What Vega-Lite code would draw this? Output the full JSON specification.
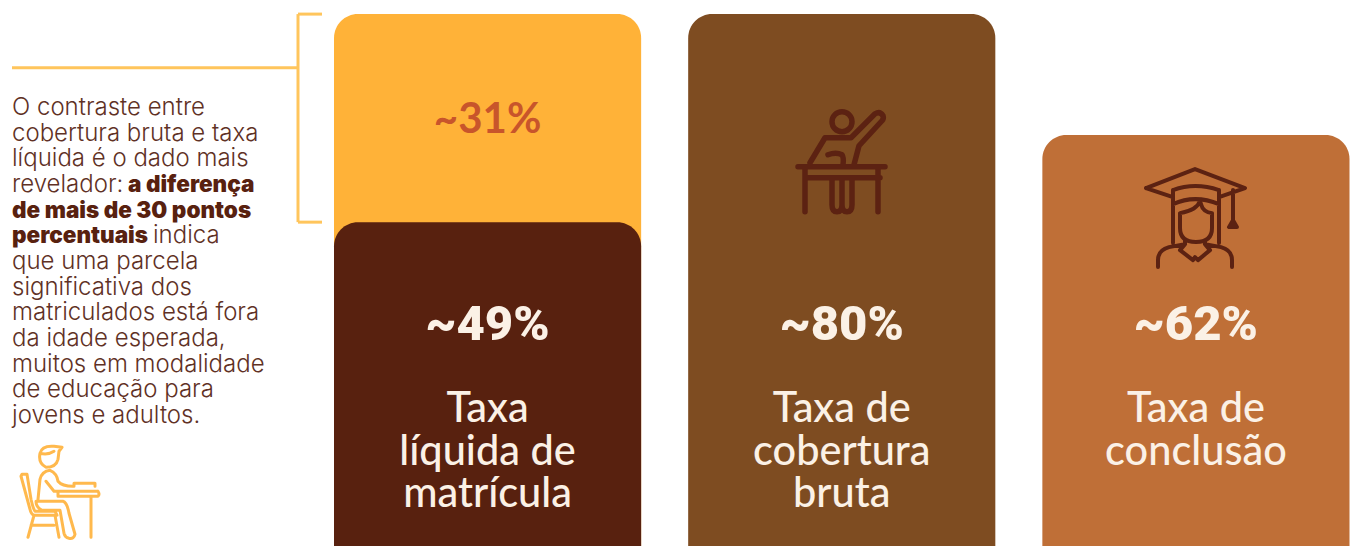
{
"$schema":"https://vega.github.io/schema/vega-lite/v6.json",
"width":1361,"height":546,"padding":0,
"autosize":{"type":"fit","contains":"padding"},
"background":"#ffffff",
"config":{"view":{"stroke":null}},
"datasets":{
"metricas":[
{"metrica":"Diferença","coluna":"Líquida","valor":80,"rotulo":"~31%","nome":""},
{"metrica":"Taxa líquida de matrícula","coluna":"Líquida","valor":49,"rotulo":"~49%","nome":"Taxa\nlíquida de\nmatrícula"},
{"metrica":"Taxa de cobertura bruta","coluna":"Bruta","valor":80,"rotulo":"~80%","nome":"Taxa de\ncobertura\nbruta"},
{"metrica":"Taxa de conclusão","coluna":"Conclusão","valor":62,"rotulo":"~62%","nome":"Taxa de\nconclusão"}
],
"nota":[
{"linha":1,"peso":"normal","texto":"O contraste entre"},
{"linha":2,"peso":"normal","texto":"cobertura bruta e taxa"},
{"linha":3,"peso":"normal","texto":"líquida é o dado mais"},
{"linha":4,"peso":"normal","texto":"revelador:"},
{"linha":4,"peso":"forte2","texto":"a diferença"},
{"linha":5,"peso":"forte","texto":"de mais de 30 pontos"},
{"linha":6,"peso":"forte","texto":"percentuais"},
{"linha":6,"peso":"normal2","texto":"indica"},
{"linha":7,"peso":"normal","texto":"que uma parcela"},
{"linha":8,"peso":"normal","texto":"significativa dos"},
{"linha":9,"peso":"normal","texto":"matriculados está fora"},
{"linha":10,"peso":"normal","texto":"da idade esperada,"},
{"linha":11,"peso":"normal","texto":"muitos em modalidade"},
{"linha":12,"peso":"normal","texto":"de educação para"},
{"linha":13,"peso":"normal","texto":"jovens e adultos."}
]},
"layer":[
{"data":{"name":"metricas"},
 "encoding":{"x":{"field":"coluna","type":"nominal","axis":null,"scale":{"domain":["Líquida","Bruta","Conclusão"],"range":[334,1349.5],"paddingInner":0.1328,"paddingOuter":0}}},
 "layer":[
 {"mark":{"type":"bar","cornerRadiusTopLeft":24,"cornerRadiusTopRight":24,"clip":true},
  "transform":[{"filter":"datum.metrica==='Diferença'"}],
  "encoding":{"y":{"field":"valor","type":"quantitative","axis":null,"scale":{"domain":[0.745,82.1],"nice":false,"zero":false}},"y2":{"datum":0},
   "color":{"field":"metrica","type":"nominal","legend":null,"scale":{"domain":["Diferença","Taxa líquida de matrícula","Taxa de cobertura bruta","Taxa de conclusão"],"range":["#FFB238","#58210F","#7E4C21","#BF6F37"]}}}},
 {"mark":{"type":"bar","cornerRadiusTopLeft":24,"cornerRadiusTopRight":24,"clip":true},
  "transform":[{"filter":"datum.metrica!=='Diferença'"}],
  "encoding":{"y":{"field":"valor","type":"quantitative","axis":null},"y2":{"datum":0},
   "color":{"field":"metrica","type":"nominal","legend":null}}},
 {"mark":{"type":"text","font":"Lato","fontSize":42,"fontWeight":700,"color":"#C8552B","baseline":"middle","align":"center","dy":2},
  "transform":[{"filter":"datum.metrica==='Diferença'"}],
  "encoding":{"y":{"datum":64.5},"text":{"field":"rotulo"}}},
 {"mark":{"type":"text","font":"Roboto","fontSize":49,"fontWeight":900,"color":"#FBF1E6","baseline":"alphabetic","align":"center"},
  "transform":[{"filter":"datum.metrica!=='Diferença'"}],
  "encoding":{"y":{"datum":31.4},"text":{"field":"rotulo"}}},
 {"mark":{"type":"text","font":"Lato","fontSize":41.5,"fontWeight":500,"color":"#FBF1E6","baseline":"alphabetic","align":"center","lineBreak":"\n","lineHeight":42.5},
  "transform":[{"filter":"datum.metrica!=='Diferença'"}],
  "encoding":{"y":{"datum":19.2},"text":{"field":"nome"}}}
 ]},
{"data":{"values":[{"item":"anotacao"}]},
 "layer":[
 {"mark":{"type":"rule","color":"#FFC55C","strokeWidth":3},
  "encoding":{"x":{"datum":298,"type":"quantitative","axis":null,"scale":{"domain":[0,1361],"nice":false,"zero":false}},"y":{"datum":80,"type":"quantitative","axis":null,"scale":{"domain":[0.745,82.1],"nice":false,"zero":false}},"y2":{"datum":49}}},
 {"mark":{"type":"rule","color":"#FFC55C","strokeWidth":3},
  "encoding":{"x":{"datum":12,"type":"quantitative"},"x2":{"datum":298},"y":{"datum":72,"type":"quantitative"}}},
 {"mark":{"type":"rule","color":"#FFC55C","strokeWidth":3},
  "encoding":{"x":{"datum":298,"type":"quantitative"},"x2":{"datum":322},"y":{"datum":80,"type":"quantitative"}}},
 {"mark":{"type":"rule","color":"#FFC55C","strokeWidth":3},
  "encoding":{"x":{"datum":298,"type":"quantitative"},"x2":{"datum":322},"y":{"datum":49,"type":"quantitative"}}},
 {"mark":{"type":"point","size":4,"opacity":1,"filled":false,"stroke":"#5C2212","strokeWidth":5.5,"strokeCap":"round","strokeJoin":"round",
  "shape":"M10 -40A10 10 0 1 1 -10 -40A10 10 0 1 1 10 -40M-32 1L-17 -24L9 -24L33 -48Q38 -51 41 -46Q42 -43 40 -41L17 -16L12 3M-14 -7Q-6 -10 0 -7Q2 -4 1 3M-44 5L43 5M-37 16L38 16M-37 6L-37 50M36 6L36 50M-10 18L-10 43Q-10 50 -5 50Q0 50 0 43L0 18M0 43Q0 50 5 50Q10 50 10 43L10 18"},
  "encoding":{"x":{"datum":842,"type":"quantitative"},"y":{"datum":58,"type":"quantitative"}}},
 {"mark":{"type":"point","size":4,"opacity":1,"filled":false,"stroke":"#5C2212","strokeWidth":4,"strokeCap":"round","strokeJoin":"round",
  "shape":"M-49 -30L0 -49L50 -30L24 -21M-49 -30L-22 -21M-22 -28Q0 -36 24 -28M-22 -28L-22 25M24 -28L24 25M-22 -14Q0 -24 24 -14M-15 -5L-15 10Q-15 24 1 24Q17 24 17 10L17 -5Q8 -6 6 -14L5 -17Q2 -8 -15 -5ZM38 -28L38 2M34 9L42 9L38 2ZM-37 49L-37 42Q-37 32 -26 29L-10 26L-10 22M37 49L37 42Q37 32 26 29L10 26L10 22M-10 26L-15 32L-2 42L0 39L3 42L15 32L10 26"},
  "encoding":{"x":{"datum":1195,"type":"quantitative"},"y":{"datum":49.6,"type":"quantitative"}}},
 {"mark":{"type":"point","size":4,"opacity":1,"filled":false,"stroke":"#FFB94D","strokeWidth":3,"strokeCap":"round","strokeJoin":"round",
  "shape":"M-20 -38Q-22 -28 -14 -24Q-4 -24 -2 -32L-1 -40L2 -44L-6 -45Q-18 -46 -20 -38M-20 -38Q-12 -36 -6 -40M-22 8L-20 -12Q-18 -20 -10 -21Q-3 -18 -2 -10Q2 -5 13 -5M-14 -10L-6 0L38 0M-2 0L-2 5L38 5Q40 3 38 0M31 5L31 46M14 -5L14 -8L35 -8L35 -5M-24 10L3 10Q7 11 9 22L15 43Q14 48 9 47Q5 46 4 42L0 19L-18 19Q-24 16 -24 10M-38 -17L-33 -17L-29 8Q-27 17 -25 20L-5 20L-3 24L-26 24Q-29 23 -30 18L-39 -15ZM-26 24L-32 46M-5 24L-1 46M-29 34L-6 34"},
  "encoding":{"x":{"datum":60,"type":"quantitative"},"y":{"datum":8.9,"type":"quantitative"}}}
 ]},
{"data":{"name":"nota"},
 "encoding":{"x":{"datum":12,"type":"quantitative","axis":null,"scale":{"domain":[0,1361],"nice":false,"zero":false}},
  "y":{"field":"linha","type":"ordinal","axis":null,"scale":{"type":"point","domain":[1,2,3,4,5,6,7,8,9,10,11,12,13],"range":[108,416],"padding":0}},
  "text":{"field":"texto"}},
 "layer":[
 {"mark":{"type":"text","font":"Inter","fontSize":24,"fontWeight":300,"color":"#5F3125","align":"left","baseline":"middle"},
  "transform":[{"filter":"datum.peso==='normal'"}]},
 {"mark":{"type":"text","font":"Inter","fontSize":24,"fontWeight":300,"color":"#5F3125","align":"left","baseline":"middle","dx":141},
  "transform":[{"filter":"datum.peso==='normal2'"}]},
 {"mark":{"type":"text","font":"Inter","fontSize":22.5,"fontWeight":900,"color":"#58210F","align":"left","baseline":"middle"},
  "transform":[{"filter":"datum.peso==='forte'"}]},
 {"mark":{"type":"text","font":"Inter","fontSize":22.5,"fontWeight":900,"color":"#58210F","align":"left","baseline":"middle","dx":116},
  "transform":[{"filter":"datum.peso==='forte2'"}]}
 ]}
],
"resolve":{"scale":{"x":"independent","y":"independent"}}
}
